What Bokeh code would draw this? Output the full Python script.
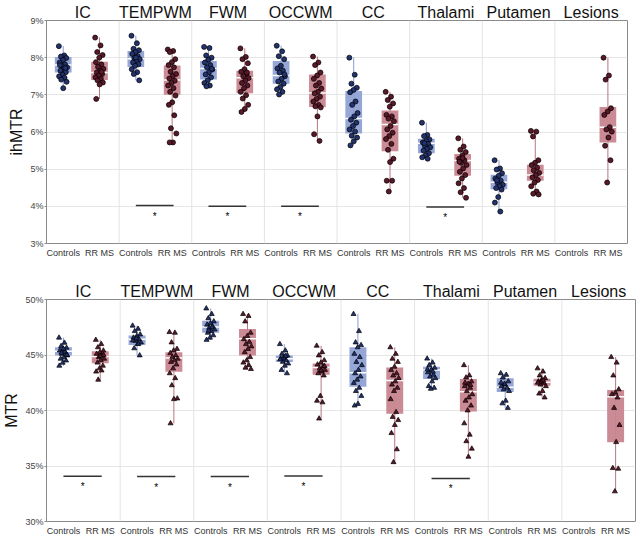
import numpy as np
from bokeh.plotting import figure
from bokeh.models import FixedTicker, LinearAxis, Range1d, Span, PrintfTickFormatter, ColumnDataSource
from bokeh.layouts import column
from bokeh.embed import file_html
from bokeh.resources import INLINE

regions = ["IC", "TEMPWM", "FWM", "OCCWM", "CC", "Thalami", "Putamen", "Lesions"]
cohorts = ["Controls", "RR MS"]

# ---------------- ihMTR (%) ----------------
ih_ic_ctl = [8.31, 8.06, 8.03, 7.99, 7.94, 7.87, 7.82, 7.78, 7.74, 7.69, 7.65, 7.61, 7.54, 7.5, 7.46, 7.41, 7.35, 7.18, 7.8, 7.72]
ih_ic_ms = [8.54, 8.33, 8.15, 8.07, 8.0, 7.88, 7.82, 7.75, 7.7, 7.65, 7.6, 7.56, 7.52, 7.47, 7.43, 7.39, 7.33, 7.28, 6.89, 7.62]
ih_temp_ctl = [8.59, 8.39, 8.24, 8.2, 8.15, 8.1, 8.04, 7.99, 7.96, 7.91, 7.87, 7.82, 7.78, 7.69, 7.61, 7.56, 7.39, 8.0]
ih_temp_ms = [8.22, 8.18, 8.15, 7.96, 7.88, 7.8, 7.74, 7.62, 7.56, 7.5, 7.44, 7.38, 7.32, 7.25, 7.18, 7.08, 6.98, 6.8, 6.73, 6.45, 6.1, 5.96, 5.72, 5.72]
ih_fwm_ctl = [8.29, 8.26, 8.06, 8.0, 7.94, 7.87, 7.8, 7.74, 7.68, 7.61, 7.55, 7.47, 7.39, 7.32, 7.25, 7.23, 7.7]
ih_fwm_ms = [8.25, 8.02, 7.96, 7.85, 7.69, 7.62, 7.56, 7.5, 7.45, 7.39, 7.32, 7.25, 7.18, 7.08, 6.99, 6.9, 6.73, 6.62, 6.54, 7.6]
ih_occ_ctl = [8.32, 8.17, 8.04, 7.96, 7.78, 7.71, 7.65, 7.6, 7.5, 7.43, 7.36, 7.3, 7.21, 7.15, 7.08, 7.01, 7.55]
ih_occ_ms = [8.03, 7.87, 7.8, 7.6, 7.52, 7.43, 7.32, 7.25, 7.17, 7.08, 7.04, 6.95, 6.89, 6.82, 6.73, 6.69, 6.66, 6.42, 5.94, 5.76]
ih_cc_ctl = [8.0, 7.54, 7.3, 7.19, 7.13, 7.07, 6.82, 6.73, 6.51, 6.42, 6.33, 6.25, 6.16, 6.07, 6.01, 5.9, 5.85, 5.75, 5.64]
ih_cc_ms = [7.08, 6.95, 6.86, 6.77, 6.68, 6.46, 6.42, 6.36, 6.29, 6.16, 6.07, 5.98, 5.89, 5.81, 5.68, 5.52, 5.28, 5.19, 4.69, 4.69, 4.40]
ih_thal_ctl = [6.25, 5.92, 5.89, 5.8, 5.76, 5.72, 5.68, 5.63, 5.59, 5.54, 5.5, 5.43, 5.37, 5.32, 5.28, 5.7]
ih_thal_ms = [5.83, 5.61, 5.52, 5.46, 5.37, 5.28, 5.24, 5.17, 5.11, 5.02, 4.93, 4.84, 4.75, 4.62, 4.49, 4.38, 4.23, 5.3, 5.2]
ih_put_ctl = [5.24, 5.02, 4.99, 4.89, 4.82, 4.75, 4.69, 4.64, 4.58, 4.54, 4.49, 4.45, 4.25, 4.1, 3.86, 4.7]
ih_put_ms = [6.03, 6.01, 5.88, 5.24, 5.17, 5.11, 5.04, 4.97, 4.9, 4.84, 4.78, 4.71, 4.64, 4.54, 4.4, 4.34, 4.32]
ih_les_ms = [8.0, 7.52, 7.41, 6.64, 6.55, 6.46, 6.13, 6.07, 6.01, 5.85, 5.63, 5.24, 4.64]

ih_ctl_q1 = [7.60, 7.75, 7.41, 7.30, 5.96, 5.43, 4.46, None]
ih_ctl_med = [7.80, 7.97, 7.71, 7.52, 6.36, 5.70, 4.65, None]
ih_ctl_q3 = [8.02, 8.18, 7.91, 7.91, 7.10, 5.82, 4.85, None]
ih_ms_q1 = [7.40, 7.00, 7.04, 6.67, 5.48, 4.82, 4.69, 5.72]
ih_ms_med = [7.60, 7.40, 7.46, 7.05, 6.20, 5.23, 4.84, 6.13]
ih_ms_q3 = [7.89, 7.79, 7.65, 7.55, 6.58, 5.41, 5.12, 6.67]

ih_sig_regions = ["TEMPWM", "FWM", "OCCWM", "Thalami"]
ih_sig_y = [4.02, 4.0, 4.0, 3.98]
ih_ticks = [3, 4, 5, 6, 7, 8, 9]

# ---------------- MTR (%) ----------------
mtr_ic_ctl = [46.56, 46.1, 45.8, 45.65, 45.5, 45.4, 45.25, 45.1, 44.96, 44.8, 44.66, 44.5, 44.3, 44.03, 45.3, 45.2, 45.0, 45.55]
mtr_ic_ms = [46.36, 45.98, 45.69, 45.4, 45.25, 45.1, 44.96, 44.81, 44.66, 44.52, 44.31, 44.03, 43.79, 43.5, 43.6, 42.77, 45.0, 44.9]
mtr_temp_ctl = [47.64, 47.35, 47.15, 46.85, 46.7, 46.56, 46.42, 46.27, 46.13, 45.98, 45.6, 44.96, 46.5, 46.3, 46.0]
mtr_temp_ms = [47.06, 47.0, 46.13, 45.54, 45.4, 45.16, 44.96, 44.81, 44.66, 44.52, 44.37, 44.14, 43.79, 43.35, 42.91, 42.27, 41.08, 41.02, 38.84]
mtr_fwm_ctl = [49.19, 48.69, 48.31, 48.02, 47.87, 47.73, 47.58, 47.44, 47.29, 47.15, 47.0, 46.77, 46.56, 46.36, 47.5, 47.2]
mtr_fwm_ms = [48.69, 48.51, 48.02, 47.0, 46.71, 46.42, 46.18, 45.98, 45.77, 45.54, 45.25, 44.81, 44.52, 44.31, 44.08, 43.85, 43.73]
mtr_occ_ctl = [45.98, 45.4, 45.1, 44.96, 44.81, 44.67, 44.52, 44.38, 44.23, 44.03, 43.65, 43.35, 44.7, 44.6, 44.9]
mtr_occ_ms = [45.83, 45.25, 44.96, 44.52, 44.31, 44.14, 43.94, 43.79, 43.65, 43.5, 43.35, 43.15, 41.31, 40.88, 40.73, 39.27, 44.0, 43.6]
mtr_cc_ctl = [48.69, 47.15, 46.13, 45.89, 45.69, 45.1, 44.81, 44.37, 44.08, 43.65, 43.35, 43.06, 42.77, 42.48, 42.04, 41.75, 41.31, 40.59, 40.44]
mtr_cc_ms = [45.69, 45.1, 44.66, 44.37, 43.94, 43.65, 43.35, 43.15, 42.91, 42.62, 42.33, 42.04, 41.75, 41.02, 39.85, 39.42, 39.13, 38.69, 37.96, 36.5, 35.34]
mtr_thal_ctl = [44.67, 44.31, 44.08, 43.85, 43.65, 43.44, 43.21, 43.06, 42.91, 42.62, 42.19, 42.04, 41.95, 43.7, 43.5]
mtr_thal_ms = [44.08, 43.15, 42.97, 42.62, 42.39, 42.19, 42.04, 41.75, 41.46, 41.17, 40.88, 40.44, 40.0, 38.84, 37.82, 37.23, 36.56, 35.83, 42.5, 42.3]
mtr_put_ctl = [43.35, 43.21, 42.97, 42.62, 42.33, 42.19, 42.04, 41.9, 41.75, 40.88, 40.64, 40.23, 42.4, 42.5]
mtr_put_ms = [43.79, 43.5, 43.15, 42.91, 42.77, 42.62, 42.48, 42.33, 42.19, 41.75, 41.52, 41.17, 42.6, 42.5, 42.7]
mtr_les_ms = [44.81, 44.31, 43.15, 41.9, 41.6, 41.46, 41.17, 40.23, 38.69, 37.15, 34.81, 34.75, 32.71]

mtr_ctl_q1 = [44.96, 45.89, 47.00, 44.38, 42.13, 42.83, 41.66, None]
mtr_ctl_med = [45.34, 46.42, 47.52, 44.67, 43.41, 43.65, 42.10, None]
mtr_ctl_q3 = [45.69, 46.76, 48.08, 44.96, 45.69, 43.94, 42.91, None]
mtr_ms_q1 = [44.26, 43.50, 44.96, 43.21, 39.71, 39.91, 42.24, 37.15]
mtr_ms_med = [44.87, 44.73, 46.47, 43.88, 42.71, 41.69, 42.54, 41.23]
mtr_ms_q3 = [45.34, 45.25, 47.35, 44.23, 43.88, 42.83, 42.86, 41.84]

mtr_sig_regions = ["IC", "TEMPWM", "FWM", "OCCWM", "Thalami"]
mtr_sig_y = [34.08, 34.05, 34.05, 34.1, 33.88]
mtr_ticks = [30, 35, 40, 45, 50]

ih_ctl = [ih_ic_ctl, ih_temp_ctl, ih_fwm_ctl, ih_occ_ctl, ih_cc_ctl, ih_thal_ctl, ih_put_ctl, []]
ih_ms = [ih_ic_ms, ih_temp_ms, ih_fwm_ms, ih_occ_ms, ih_cc_ms, ih_thal_ms, ih_put_ms, ih_les_ms]
mtr_ctl = [mtr_ic_ctl, mtr_temp_ctl, mtr_fwm_ctl, mtr_occ_ctl, mtr_cc_ctl, mtr_thal_ctl, mtr_put_ctl, []]
mtr_ms = [mtr_ic_ms, mtr_temp_ms, mtr_fwm_ms, mtr_occ_ms, mtr_cc_ms, mtr_thal_ms, mtr_put_ms, mtr_les_ms]

# ---------------- styling ----------------
FONT = "Liberation Sans"
GW = 100            # group width in x units
OFF = {"Controls": 23, "RR MS": 73}
BOXW = 23
STYLE = {
    "Controls": dict(box="#8fa1d5", whisk="#8a9bd0", pt="#22336f"),
    "RR MS": dict(box="#c7858f", whisk="#b97580", pt="#5a1828"),
}


def jitter(n):
    return [((k * 0.6180339) % 1.0 - 0.5) * 12 for k in range(n)]


def build(ylabel, yr, yticks, ctl_pts, ms_pts, boxes, marker, msize, sig_regions, sig_y,
          width, height, border_top, border_right):
    p = figure(width=width, height=height, x_range=Range1d(0, 8 * GW), y_range=Range1d(*yr),
               output_backend="svg", toolbar_location=None,
               min_border_left=0, min_border_right=border_right,
               min_border_top=border_top, min_border_bottom=0)
    p.background_fill_color = "white"
    p.outline_line_color = "#8a8a8a"
    p.outline_line_width = 1

    # x axis (cohort labels)
    xt = []
    xo = {}
    for i in range(8):
        for c in cohorts:
            xt.append(i * GW + OFF[c])
            xo[i * GW + OFF[c]] = c
    xa = p.xaxis[0]
    xa.ticker = FixedTicker(ticks=xt)
    xa.major_label_overrides = xo
    xa.axis_line_color = None
    xa.major_tick_line_color = None
    xa.minor_tick_line_color = None
    xa.major_tick_out = 0
    xa.minor_tick_out = 0
    xa.major_label_standoff = 4
    xa.major_label_text_font = FONT
    xa.major_label_text_font_size = "9px"
    xa.major_label_text_color = "#333333"

    # top axis (region names)
    ta = LinearAxis(ticker=FixedTicker(ticks=[i * GW + 50 for i in range(8)]),
                    major_label_overrides={i * GW + 50: r for i, r in enumerate(regions)})
    ta.axis_line_color = None
    ta.major_tick_line_color = None
    ta.minor_tick_line_color = None
    ta.major_tick_out = 0
    ta.minor_tick_out = 0
    ta.major_label_standoff = 0
    ta.major_label_text_font = FONT
    ta.major_label_text_font_size = "16px"
    ta.major_label_text_color = "#111111"
    p.add_layout(ta, "above")

    # y axis
    ya = p.yaxis[0]
    yt = FixedTicker(ticks=yticks)
    ya.ticker = yt
    ya.formatter = PrintfTickFormatter(format="%d%%")
    ya.axis_line_color = "#8a8a8a"
    ya.major_tick_line_color = "#8a8a8a"
    ya.major_tick_out = 2
    ya.major_tick_in = 0
    ya.minor_tick_line_color = None
    ya.minor_tick_out = 0
    ya.major_label_standoff = 1
    ya.major_label_text_font = FONT
    ya.major_label_text_font_size = "9px"
    ya.major_label_text_color = "#444444"
    ya.axis_label = ylabel
    ya.axis_label_standoff = 2
    ya.axis_label_text_font = FONT
    ya.axis_label_text_font_size = "16px"
    ya.axis_label_text_font_style = "normal"
    ya.axis_label_text_color = "#111111"

    p.xgrid.visible = False
    p.ygrid.ticker = yt
    p.ygrid.grid_line_color = "#e6e6e6"
    for i in range(1, 8):
        p.add_layout(Span(location=i * GW, dimension="height", line_color="#e3e3e3", line_width=1))

    # boxes
    for c, pts_all in (("Controls", ctl_pts), ("RR MS", ms_pts)):
        q1s, meds, q3s = boxes[c]
        st = STYLE[c]
        bx, b1, bm, b3, lo, hi = [], [], [], [], [], []
        px, py = [], []
        for i in range(8):
            pts = pts_all[i]
            cx = i * GW + OFF[c]
            if q1s[i] is not None and len(pts):
                bx.append(cx); b1.append(q1s[i]); bm.append(meds[i]); b3.append(q3s[i])
                lo.append(min(pts)); hi.append(max(pts))
            jj = jitter(len(pts))
            px += [cx + j for j in jj]
            py += list(pts)
        src = ColumnDataSource(dict(x=bx, q1=b1, med=bm, q3=b3, lo=lo, hi=hi,
                                    xl=[v - BOXW / 2 for v in bx], xr=[v + BOXW / 2 for v in bx]))
        p.segment(x0="x", y0="lo", x1="x", y1="hi", source=src, line_color=st["whisk"], line_width=1)
        p.vbar(x="x", width=BOXW, bottom="q1", top="q3", source=src,
               fill_color=st["box"], fill_alpha=0.95, line_color=None)
        p.segment(x0="xl", y0="med", x1="xr", y1="med", source=src, line_color="white", line_width=1.5)
        p.scatter(px, py, marker=marker, size=msize, fill_color=st["pt"], line_color="black", line_width=0.7)

    # significance markers
    sx0 = [regions.index(r) * GW + OFF["Controls"] for r in sig_regions]
    sx1 = [regions.index(r) * GW + OFF["RR MS"] + 2 for r in sig_regions]
    p.segment(x0=sx0, y0=sig_y, x1=sx1, y1=sig_y, line_color="#333333", line_width=1.5)
    p.text(x=[(a + b) / 2 for a, b in zip(sx0, sx1)], y=sig_y, text=["*"] * len(sig_y),
           text_align="center", text_baseline="top", y_offset=5,
           text_font_size="10px", text_color="#000000")
    return p


p1 = build("ihMTR", (3, 9), ih_ticks, ih_ctl, ih_ms,
           {"Controls": (ih_ctl_q1, ih_ctl_med, ih_ctl_q3), "RR MS": (ih_ms_q1, ih_ms_med, ih_ms_q3)},
           "circle", 5, ih_sig_regions, ih_sig_y, width=632, height=260, border_top=0, border_right=5)
p2 = build("MTR", (30, 50), mtr_ticks, mtr_ctl, mtr_ms,
           {"Controls": (mtr_ctl_q1, mtr_ctl_med, mtr_ctl_q3), "RR MS": (mtr_ms_q1, mtr_ms_med, mtr_ms_q3)},
           "triangle", 5, mtr_sig_regions, mtr_sig_y, width=640, height=278, border_top=39, border_right=3)

layout = column(p1, p2, spacing=0)
open("out.html", "w").write(file_html(layout, INLINE))
